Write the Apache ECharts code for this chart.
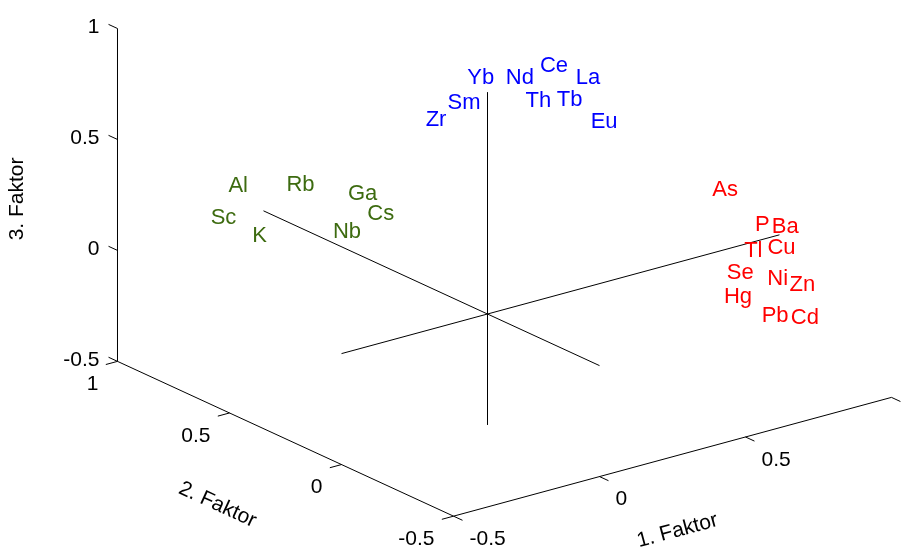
<!DOCTYPE html>
<html>
<head>
<meta charset="utf-8">
<script src="https://cdn.jsdelivr.net/npm/echarts@6/dist/echarts.min.js"></script>
<style>
  html, body { margin: 0; padding: 0; background: #ffffff; }
  #chart { width: 906px; height: 552px; }
</style>
</head>
<body>
<div id="chart"></div>
<script>
// Factor loadings of the elements on the three rotated factors
const redNames = ['As', 'P', 'Ba', 'Tl', 'Cu', 'Se', 'Ni', 'Zn', 'Hg', 'Pb', 'Cd'];
const redF1 = [0.770, 0.878, 0.897, 0.764, 0.905, 0.804, 0.851, 0.912, 0.825, 0.893, 0.947];
const redF2 = [0.000, -0.050, -0.100, -0.150, -0.070, -0.020, -0.140, -0.160, 0.020, -0.060, -0.120];
const redF3 = [0.285, 0.113, 0.118, 0.081, 0.009, -0.092, -0.080, -0.122, -0.226, -0.301, -0.301];

const greenNames = ['Al', 'Rb', 'Ga', 'Sc', 'Cs', 'K', 'Nb'];
const greenF1 = [-0.150, -0.100, 0.050, -0.250, 0.100, -0.200, 0.050];
const greenF2 = [0.961, 0.767, 0.688, 0.910, 0.667, 0.789, 0.755];
const greenF3 = [0.183, 0.262, 0.204, 0.099, 0.106, 0.055, 0.000];

const blueNames = ['Yb', 'Nd', 'Ce', 'La', 'Sm', 'Th', 'Tb', 'Zr', 'Eu'];
const blueF1 = [0.046, 0.216, 0.310, 0.494, 0.047, 0.238, 0.406, 0.003, 0.476];
const blueF2 = [0.150, 0.200, 0.170, 0.250, 0.240, 0.140, 0.220, 0.280, 0.160];
const blueF3 = [0.976, 0.894, 0.929, 0.773, 0.822, 0.808, 0.718, 0.745, 0.620];

// Axes
const axisRange = [-0.5, 1];
const axisTicks = [-0.5, 0, 0.5, 1];
const axisTickLabels = ['-0.5', '0', '0.5', '1'];
const axisTitles = ['1. Faktor', '2. Faktor', '3. Faktor'];

// Orthographic camera (azimuth / elevation in degrees) and vertical stretch of the 3rd axis
const AZIMUTH = -37.5;
const ELEVATION = 20.7;
const Z_SCALE = 0.603;
// Visible window of the projected plane
const VIEW_U = [-1.3247, 1.1372];
const VIEW_V = [-0.6467, 0.8533];

const FONT_FAMILY = '"Liberation Sans", Arial, Helvetica, sans-serif';
const COLORS = { red: '#ff0000', green: '#3d6b10', blue: '#0000ff', axis: '#000000' };

function project(x, y, z) {
  const a = AZIMUTH * Math.PI / 180;
  const e = ELEVATION * Math.PI / 180;
  const u = Math.cos(a) * x + Math.sin(a) * y;
  const v = Math.sin(e) * (-Math.sin(a) * x + Math.cos(a) * y) + Z_SCALE * z;
  return [u, v];
}

const LO = axisRange[0], HI = axisRange[1];
const TICK_LEN = 0.04;

// Box edges carrying the ticks, plus three lines through the origin
const frameSegments = [
  [LO, LO, LO, HI, LO, LO],
  [LO, LO, LO, LO, HI, LO],
  [LO, HI, LO, LO, HI, HI],
  [LO, 0, 0, HI, 0, 0],
  [0, LO, 0, 0, HI, 0],
  [0, 0, LO, 0, 0, HI]
];
axisTicks.forEach(function (t) {
  frameSegments.push([t, LO, LO, t, LO - TICK_LEN, LO]);
  frameSegments.push([LO, t, LO, LO - TICK_LEN, t, LO]);
  frameSegments.push([LO, HI, t, LO, HI + TICK_LEN, t]);
});

function frameSeries() {
  return {
    type: 'custom',
    coordinateSystem: 'cartesian2d',
    silent: true,
    clip: false,
    encode: { x: 0, y: 1 },
    data: frameSegments,
    renderItem: function (params, api) {
      const p1 = api.coord(project(api.value(0), api.value(1), api.value(2)));
      const p2 = api.coord(project(api.value(3), api.value(4), api.value(5)));
      return {
        type: 'line',
        shape: { x1: p1[0], y1: p1[1], x2: p2[0], y2: p2[1] },
        style: { stroke: COLORS.axis, lineWidth: 1 }
      };
    }
  };
}

// Text placed at projected points; offset is in pixels
function textSeries(points, texts, opts) {
  return {
    type: 'custom',
    coordinateSystem: 'cartesian2d',
    silent: true,
    clip: false,
    encode: { x: 0, y: 1 },
    data: points,
    renderItem: function (params, api) {
      const p = api.coord(project(api.value(0), api.value(1), api.value(2)));
      const off = opts.offset || [0, 0];
      let rot = 0;
      if (opts.direction) {
        const d = opts.direction;
        const q = api.coord(project(api.value(0) + d[0], api.value(1) + d[1], api.value(2) + d[2]));
        rot = -Math.atan2(q[1] - p[1], q[0] - p[0]);
      }
      return {
        type: 'text',
        x: p[0] + off[0],
        y: p[1] + off[1],
        rotation: rot,
        style: {
          text: texts[params.dataIndex],
          fill: opts.color,
          font: opts.fontSize + 'px ' + FONT_FAMILY,
          align: opts.align,
          verticalAlign: 'middle',
          textAlign: opts.align,
          textVerticalAlign: 'middle'
        }
      };
    }
  };
}

function zip3(a, b, c) {
  return a.map(function (v, i) { return [v, b[i], c[i]]; });
}

const series = [
  frameSeries(),
  // tick labels
  textSeries(axisTicks.map(function (t) { return [t, LO, LO]; }), axisTickLabels,
    { color: COLORS.axis, fontSize: 21, align: 'left', offset: [16, 23] }),
  textSeries(axisTicks.map(function (t) { return [LO, t, LO]; }), axisTickLabels,
    { color: COLORS.axis, fontSize: 21, align: 'right', offset: [-19, 23] }),
  textSeries(axisTicks.map(function (t) { return [LO, HI, t]; }), axisTickLabels,
    { color: COLORS.axis, fontSize: 21, align: 'right', offset: [-18, -1] }),
  // axis titles
  textSeries([[0.25, LO, LO]], [axisTitles[0]],
    { color: COLORS.axis, fontSize: 21, align: 'center', offset: [5, 74], direction: [1, 0, 0] }),
  textSeries([[LO, 0.25, LO]], [axisTitles[1]],
    { color: COLORS.axis, fontSize: 21, align: 'center', offset: [-68, 66], direction: [0, -1, 0] }),
  textSeries([[LO, HI, 0.25]], [axisTitles[2]],
    { color: COLORS.axis, fontSize: 21, align: 'center', offset: [-100, 4], direction: [0, 0, 1] }),
  // element labels
  textSeries(zip3(redF1, redF2, redF3), redNames,
    { color: COLORS.red, fontSize: 22, align: 'left', offset: [0, 0] }),
  textSeries(zip3(greenF1, greenF2, greenF3), greenNames,
    { color: COLORS.green, fontSize: 22, align: 'left', offset: [0, 0] }),
  textSeries(zip3(blueF1, blueF2, blueF3), blueNames,
    { color: COLORS.blue, fontSize: 22, align: 'left', offset: [0, 0] })
];

const chart = echarts.init(document.getElementById('chart'), null, { renderer: 'canvas' });
chart.setOption({
  animation: false,
  backgroundColor: '#ffffff',
  grid: { left: 0, top: 0, width: 906, height: 552, containLabel: false },
  xAxis: { type: 'value', min: VIEW_U[0], max: VIEW_U[1], show: false },
  yAxis: { type: 'value', min: VIEW_V[0], max: VIEW_V[1], show: false },
  series: series
});
</script>
</body>
</html>
